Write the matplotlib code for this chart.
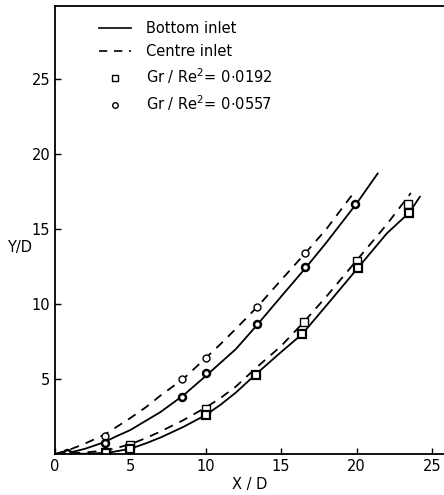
import matplotlib
matplotlib.use("Agg")
import matplotlib.pyplot as plt
from matplotlib.lines import Line2D

# Curves
cc_x = [0, 1, 2, 3.3, 4, 5, 6, 7, 8.5, 10, 11, 12, 13.5, 15, 16.7, 18, 19.8]
cc_y = [0, 0.3, 0.7, 1.3, 1.75, 2.4, 3.1, 3.9, 5.0, 6.4, 7.35, 8.35, 9.9, 11.6, 13.5, 15.0, 17.4]
bc_x = [0, 1, 2, 3.3, 4, 5, 6, 7, 8.5, 10, 11, 12, 13.4, 15, 16.7, 18, 20, 21.4]
bc_y = [0, 0.1, 0.35, 0.8, 1.15, 1.6, 2.2, 2.8, 3.9, 5.2, 6.1, 7.0, 8.6, 10.5, 12.5, 14.1, 16.7, 18.7]
cs_x = [0, 2, 3.5, 5, 6, 7, 8.5, 10, 11, 12, 13.4, 15, 16.5, 18, 20, 22, 23.6]
cs_y = [0, 0.1, 0.25, 0.65, 1.05, 1.5, 2.25, 3.1, 3.75, 4.5, 5.8, 7.2, 8.8, 10.5, 12.9, 15.3, 17.4]
bs_x = [0, 2, 3.5, 5, 6, 7, 8.5, 10, 11, 12, 13.3, 15, 16.4, 18, 20, 22, 23.5, 24.2]
bs_y = [0, 0.02, 0.08, 0.35, 0.7, 1.1, 1.8, 2.6, 3.3, 4.1, 5.3, 6.8, 8.0, 9.9, 12.3, 14.7, 16.1, 17.15]

# Data points
circ_c_x = [3.3, 8.4, 10.0, 13.4, 16.6]
circ_c_y = [1.2, 5.0, 6.4, 9.8, 13.4]
circ_b_x = [0.8, 3.3, 8.4, 10.0, 13.4, 16.6, 19.9]
circ_b_y = [0.1, 0.75, 3.8, 5.4, 8.7, 12.5, 16.7]
sq_c_x = [5.0, 10.0, 16.5, 20.0, 23.4]
sq_c_y = [0.6, 3.0, 8.8, 12.9, 16.7]
sq_b_x = [3.4, 5.0, 10.0, 13.3, 16.4, 20.1, 23.5]
sq_b_y = [0.1, 0.35, 2.6, 5.3, 8.0, 12.4, 16.1]

xticks = [0, 5, 10, 15, 20, 25]
yticks = [5, 10, 15, 20, 25]

fig = plt.figure(figsize=(4.44, 4.95), dpi=100)
ax = fig.add_axes([55/444, 1-454/495, 1-55/444, 448/495])
lw = 1.3
dash = (0, (5, 4))
ax.plot(cc_x, cc_y, color='black', lw=lw, linestyle=dash)
ax.plot(bc_x, bc_y, color='black', lw=lw)
ax.plot(cs_x, cs_y, color='black', lw=lw, linestyle=dash)
ax.plot(bs_x, bs_y, color='black', lw=lw)

ax.plot(circ_c_x, circ_c_y, 'o', ms=5, mfc='white', mec='black', mew=1.0)
ax.plot(circ_b_x, circ_b_y, 'o', ms=5, mfc='white', mec='black', mew=1.8)
ax.plot(sq_c_x, sq_c_y, 's', ms=5.3, mfc='white', mec='black', mew=1.0)
ax.plot(sq_b_x, sq_b_y, 's', ms=5.3, mfc='white', mec='black', mew=1.6)

ax.set_xlim(0, 25.8)
ax.set_ylim(0, 29.87)
ax.set_xticks(xticks)
ax.set_yticks(yticks)
ax.tick_params(direction='in', length=4, width=1, labelsize=10.5)
ax.spines['right'].set_visible(False)
for s in ['left', 'bottom', 'top']:
    ax.spines[s].set_linewidth(1.3)
ax.set_xlabel('X / D', fontsize=10.5, labelpad=2)
ax.text(-0.123, 0.46, 'Y/D', transform=ax.transAxes, fontsize=10.5, ha='left', va='center')

handles = [
    Line2D([], [], color='black', lw=1.2),
    Line2D([], [], color='black', lw=1.2, linestyle=dash),
    Line2D([], [], marker='s', ls='none', mfc='white', mec='black', ms=5),
    Line2D([], [], marker='o', ls='none', mfc='white', mec='black', ms=4),
]
labels = ['Bottom inlet', 'Centre inlet',
          r'Gr / Re$^2$= 0$\cdot$0192', r'Gr / Re$^2$= 0$\cdot$0557']
ax.legend(handles, labels, loc='upper left', bbox_to_anchor=(0.08, 0.995),
          frameon=False, fontsize=10.5, handlelength=2.2, handletextpad=1.0,
          labelspacing=0.5)

fig.savefig('out.png', dpi=100)
